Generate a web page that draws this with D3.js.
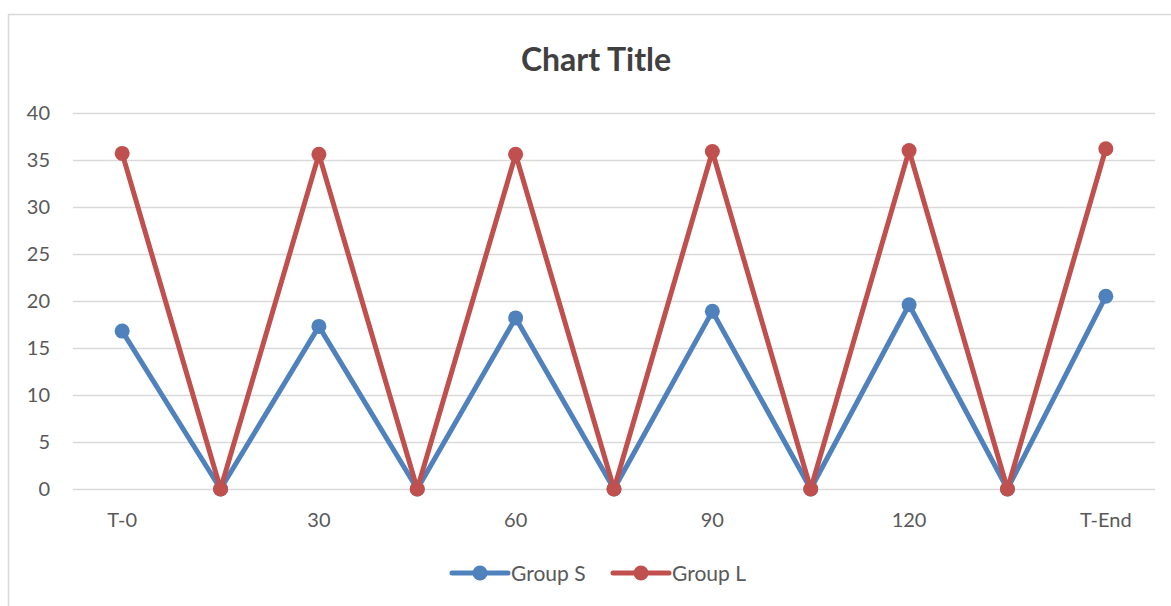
<!DOCTYPE html>
<html>
<head>
<meta charset="utf-8">
<script src="https://cdn.jsdelivr.net/npm/d3@7"></script>
<style>
  body { margin: 0; background: #fff; }
  svg { display: block; font-family: Lato, "Open Sans", sans-serif; }
</style>
</head>
<body>
<div id="chart"></div>
<script>
// 数据
const categories = ['T-0', '', '30', '', '60', '', '90', '', '120', '', 'T-End'];
const groupS = [16.8, 0, 17.3, 0, 18.2, 0, 18.9, 0, 19.6, 0, 20.5];
const groupL = [35.7, 0, 35.6, 0, 35.6, 0, 35.9, 0, 36.0, 0, 36.2];
const yTicks = [0, 5, 10, 15, 20, 25, 30, 35, 40];

const series = [
  { name: 'Group S', values: groupS, color: '#4F81BD' },
  { name: 'Group L', values: groupL, color: '#C0504D' }
];

const width = 1171;
const height = 606;
const plotLeft = 73, plotRight = 1155, plotTop = 113, plotBottom = 489;

const svg = d3.select('#chart').append('svg').attr('width', width).attr('height', height);

// 外框
svg.append('rect')
  .attr('x', 8.5).attr('y', 14.5)
  .attr('width', 1180).attr('height', 620)
  .attr('fill', 'none').attr('stroke', '#d9d9d9').attr('stroke-width', 1.5);

svg.append('text')
  .attr('x', 596).attr('y', 71)
  .attr('text-anchor', 'middle')
  .attr('font-size', 32).attr('font-weight', 'bold')
  .attr('fill', '#404040')
  .text('Chart Title');

const x = d3.scaleBand().domain(d3.range(categories.length)).range([plotLeft, plotRight]);
const y = d3.scaleLinear().domain([0, 40]).range([plotBottom, plotTop]);
const cx = i => x(i) + x.bandwidth() / 2;

// 网格线
const yAxis = svg.append('g')
  .attr('transform', `translate(${plotLeft},0)`)
  .call(d3.axisLeft(y).tickValues(yTicks).tickSize(-(plotRight - plotLeft)).tickPadding(23));
yAxis.select('.domain').remove();
yAxis.selectAll('.tick line').attr('stroke', '#d9d9d9').attr('stroke-width', 1.5);
yAxis.selectAll('.tick text').attr('font-size', 20).attr('fill', '#595959')
  .attr('font-family', 'Lato, "Open Sans", sans-serif');

// x 轴标签
svg.append('g')
  .selectAll('text').data(categories)
  .enter()
  .append('text')
  .attr('x', (d, i) => cx(i))
  .attr('y', 527)
  .attr('text-anchor', 'middle')
  .attr('font-size', 20).attr('fill', '#595959')
  .text(d => d);

const line = d3.line().x((d, i) => cx(i)).y(d => y(d));

series.forEach(s => {
  svg.append('path')
    .attr('d', line(s.values))
    .attr('fill', 'none')
    .attr('stroke', s.color)
    .attr('stroke-width', 5)
    .attr('stroke-linejoin', 'round');
});

series.forEach(s => {
  svg.append('g')
    .selectAll('circle').data(s.values)
    .enter()
    .append('circle')
    .attr('cx', (d, i) => cx(i))
    .attr('cy', d => y(d))
    .attr('r', 7.5)
    .attr('fill', s.color);
});

// 图例
const legendX = [452, 613];
series.forEach((s, i) => {
  const g = svg.append('g').attr('transform', `translate(${legendX[i]},573)`);
  g.append('line').attr('x1', 0).attr('x2', 56).attr('y1', 0).attr('y2', 0)
    .attr('stroke', s.color).attr('stroke-width', 5).attr('stroke-linecap', 'round');
  g.append('circle').attr('cx', 28).attr('cy', 0).attr('r', 7.5).attr('fill', s.color);
  g.append('text').attr('x', 59).attr('y', 7.5)
    .attr('font-size', 21).attr('fill', '#595959')
    .text(s.name);
});
</script>
</body>
</html>
